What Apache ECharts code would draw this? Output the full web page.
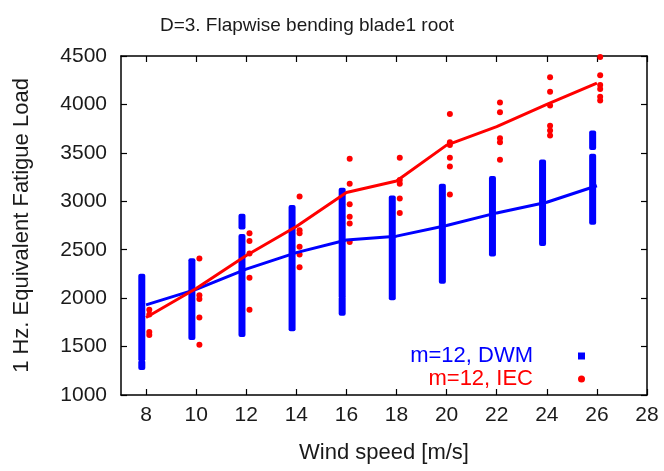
<!DOCTYPE html>
<html>
<head>
<meta charset="utf-8">
<script src="https://cdn.jsdelivr.net/npm/echarts@6/dist/echarts.min.js"></script>
<style>
  html, body { margin: 0; padding: 0; background: #fff; }
  #chart { width: 664px; height: 471px; }
</style>
</head>
<body>
<div id="chart"></div>
<script>
// wind speed bins
var windSpeeds = [8, 10, 12, 14, 16, 18, 20, 22, 24, 26];
var xTicks = [8, 10, 12, 14, 16, 18, 20, 22, 24, 26, 28];

// mean lines
var dwmMean = [1930, 2090, 2300, 2470, 2600, 2640, 2750, 2880, 2990, 3160];
var iecMean = [1800, 2100, 2440, 2740, 3090, 3210, 3580, 3770, 4000, 4220];

// DWM realisations are so dense they form solid columns: [wind, low, high]
var dwmRanges = [
  [8, 1380, 2220], [8, 1290, 1330],
  [10, 1600, 2380],
  [12, 1630, 2630], [12, 2740, 2840],
  [14, 1690, 2930],
  [16, 2030, 3110], [16, 1850, 1990],
  [18, 2010, 3030],
  [20, 2180, 3150],
  [22, 2460, 3230],
  [24, 2570, 3400],
  [26, 2790, 3460], [26, 3560, 3700]
];

// IEC seeds: [wind, load]
var iecPoints = [
  [8, 1880], [8, 1830], [8, 1650], [8, 1620],
  [10, 2410], [10, 2030], [10, 1990], [10, 1800], [10, 1520],
  [12, 2670], [12, 2590], [12, 2460], [12, 2210], [12, 1880],
  [14, 3050], [14, 2700], [14, 2670], [14, 2530], [14, 2450], [14, 2320],
  [16, 3440], [16, 3180], [16, 2970], [16, 2840], [16, 2770], [16, 2580],
  [18, 3450], [18, 3220], [18, 3180], [18, 3030], [18, 2880],
  [20, 3900], [20, 3610], [20, 3580], [20, 3450], [20, 3360], [20, 3070],
  [22, 4020], [22, 3920], [22, 3650], [22, 3610], [22, 3430],
  [24, 4280], [24, 4130], [24, 3990], [24, 3780], [24, 3730], [24, 3680],
  [26, 4490], [26, 4300], [26, 4200], [26, 4160], [26, 4080], [26, 4040]
];

var dwmShift = -0.17; // columns drawn a bit left of the bin
var iecShift = 0.13;  // dots a bit right of the bin

var font = 'Liberation Sans';
var ink = '#1a1a1a';
var frame = { show: true, lineStyle: { color: '#000', width: 1.5 } };

var chart = echarts.init(document.getElementById('chart'));

chart.setOption({
  animation: false,
  backgroundColor: '#fff',
  title: {
    text: 'D=3. Flapwise bending blade1 root',
    left: 302,
    textAlign: 'center',
    top: 11,
    textStyle: { fontFamily: font, fontSize: 19, fontWeight: 'normal', color: ink }
  },
  grid: { left: 121, right: 17, top: 56, bottom: 76 },
  legend: {
    right: 74,
    top: 340,
    orient: 'vertical',
    align: 'right',
    itemGap: 1,
    itemWidth: 7,
    itemHeight: 7,
    textStyle: { fontFamily: font, fontSize: 22, padding: [0, 40, 0, 0] },
    data: [
      { name: 'm=12, DWM', icon: 'rect', textStyle: { color: '#0000ff' } },
      { name: 'm=12, IEC', icon: 'circle', textStyle: { color: '#ff0000' } }
    ]
  },
  xAxis: [{
    type: 'value',
    min: 7,
    max: 28,
    name: 'Wind speed [m/s]',
    nameLocation: 'middle',
    nameGap: 47,
    nameTextStyle: { fontFamily: font, fontSize: 22, color: ink },
    axisLine: frame,
    axisTick: { inside: true, length: 6, lineStyle: { color: '#000', width: 1.2 }, customValues: xTicks },
    axisLabel: { fontFamily: font, fontSize: 21, color: ink, margin: 10, customValues: xTicks },
    splitLine: { show: false }
  }, {
    type: 'value',
    position: 'top',
    min: 7,
    max: 28,
    axisLine: frame,
    axisTick: { inside: true, length: 6, lineStyle: { color: '#000', width: 1.2 }, customValues: xTicks },
    axisLabel: { show: false },
    splitLine: { show: false }
  }],
  yAxis: [{
    type: 'value',
    min: 1000,
    max: 4500,
    interval: 500,
    name: '1 Hz. Equivalent Fatigue Load',
    nameLocation: 'middle',
    nameGap: 88,
    nameTextStyle: { fontFamily: font, fontSize: 22, color: ink },
    axisLine: frame,
    axisTick: { inside: true, length: 6, lineStyle: { color: '#000', width: 1.2 } },
    axisLabel: { fontFamily: font, fontSize: 21, color: ink, margin: 14, formatter: function (v) { return String(v); } },
    splitLine: { show: false }
  }, {
    type: 'value',
    position: 'right',
    min: 1000,
    max: 4500,
    interval: 500,
    axisLine: frame,
    axisTick: { inside: true, length: 6, lineStyle: { color: '#000', width: 1.2 } },
    axisLabel: { show: false },
    splitLine: { show: false }
  }],
  series: [
    {
      name: 'm=12, DWM',
      type: 'custom',
      itemStyle: { color: '#0000ff' },
      encode: { x: 0, y: [1, 2] },
      data: dwmRanges.map(function (r) { return [r[0] + dwmShift, r[1], r[2]]; }),
      renderItem: function (params, api) {
        var top = api.coord([api.value(0), api.value(2)]);
        var bot = api.coord([api.value(0), api.value(1)]);
        return {
          type: 'rect',
          shape: { x: top[0] - 3.5, y: top[1] - 3, width: 7, height: bot[1] - top[1] + 6, r: 2 },
          style: { fill: '#0000ff' }
        };
      },
      z: 2
    },
    {
      name: 'm=12, IEC',
      type: 'scatter',
      symbol: 'circle',
      symbolSize: 6,
      itemStyle: { color: '#ff0000', opacity: 1 },
      data: iecPoints.map(function (p) { return [p[0] + iecShift, p[1]]; }),
      z: 3
    },
    {
      name: 'm=12, DWM',
      type: 'line',
      showSymbol: false,
      lineStyle: { color: '#0000ff', width: 3 },
      itemStyle: { color: '#0000ff' },
      data: windSpeeds.map(function (w, i) { return [w, dwmMean[i]]; }),
      z: 4
    },
    {
      name: 'm=12, IEC',
      type: 'line',
      showSymbol: false,
      lineStyle: { color: '#ff0000', width: 3 },
      itemStyle: { color: '#ff0000' },
      data: windSpeeds.map(function (w, i) { return [w, iecMean[i]]; }),
      z: 4
    }
  ]
});
</script>
</body>
</html>
